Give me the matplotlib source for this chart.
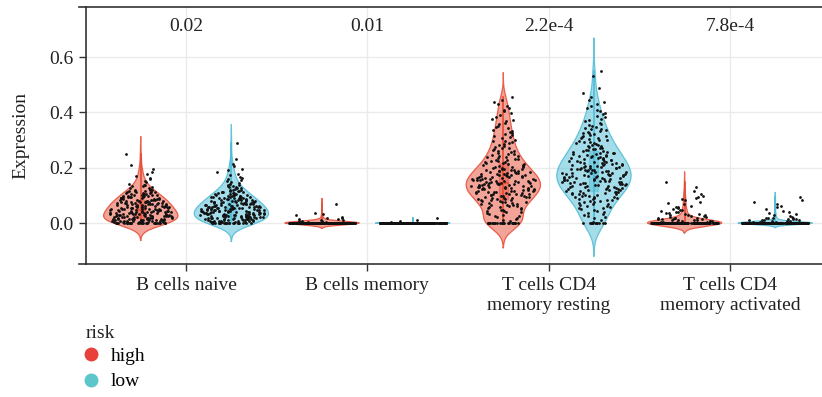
import numpy as np
import matplotlib.pyplot as plt
from matplotlib.lines import Line2D

plt.rcParams['font.family'] = ['Liberation Serif', 'DejaVu Serif']

cell_types = ['B cells naive', 'B cells memory',
              'T cells CD4\nmemory resting', 'T cells CD4\nmemory activated']
p_values = ['0.02', '0.01', '2.2e-4', '7.8e-4']
risk_groups = ['high', 'low']
risk_colors = {'high': '#E64B35', 'low': '#4DBBD5'}
legend_colors = {'high': '#E8413C', 'low': '#5CC6CB'}

# expression histograms: samples at exactly zero, then counts per 0.02 bin
bin_width = 0.02
high_zero_counts = [22, 190, 22, 180]
low_zero_counts = [18, 215, 12, 200]
high_bin_counts = [
    [42, 40, 36, 32, 26, 18, 9, 4, 3, 2, 1, 0, 1],
    [12, 4, 0, 1],
    [5, 7, 10, 13, 16, 20, 22, 22, 19, 16, 12, 10, 8, 7, 6, 5, 5, 4, 4, 3, 3, 3, 2],
    [22, 12, 8, 4, 5, 2, 1, 1],
]
low_bin_counts = [
    [38, 42, 40, 32, 26, 18, 10, 6, 4, 3, 2, 1, 0, 0, 1],
    [4],
    [3, 5, 7, 9, 12, 15, 17, 19, 20, 19, 17, 15, 13, 11, 9, 8, 7, 6, 4, 4, 3, 3,
     2, 1, 1, 0, 1, 1],
    [20, 6, 3, 3, 2],
]

# kernel bandwidth multipliers and minimum jitter share per violin
high_bw_adjust = [1.5, 3.0, 1.0, 1.6]
low_bw_adjust = [1.5, 1.4, 1.25, 1.3]
high_jitter_floor = [0.45, 0.8, 0.35, 0.8]
low_jitter_floor = [0.45, 0.8, 0.35, 0.8]


def expand_histogram(zero_count, bin_counts):
    values = [np.zeros(zero_count)]
    for i, count in enumerate(bin_counts):
        if count:
            values.append(i * bin_width + (np.arange(count) + 0.5) / count * bin_width)
    return np.concatenate(values)


def bw_nrd0(values):
    sd = values.std(ddof=1)
    iqr = np.subtract(*np.percentile(values, [75, 25]))
    lo = min(sd, iqr / 1.34) if iqr > 0 else sd
    return 0.9 * lo * len(values) ** -0.2


def violin_profile(values, adjust):
    bw = bw_nrd0(values) * adjust
    grid = np.linspace(values.min() - 3 * bw, values.max() + 3 * bw, 512)
    dens = np.exp(-0.5 * ((grid[:, None] - values[None, :]) / bw) ** 2).sum(axis=1)
    return grid, dens / dens.max()


def draw_violin(ax, x, grid, rel, color, half_width):
    widths = half_width * rel
    ax.fill_betweenx(grid, x - widths, x + widths, facecolor=color, alpha=0.5,
                     edgecolor='none', zorder=2)
    ax.plot(np.r_[x - widths, (x + widths)[::-1], x - widths[0]],
            np.r_[grid, grid[::-1], grid[0]], color=color, lw=0.9, alpha=0.85, zorder=2)


def draw_box(ax, x, values, color, half_width=0.025):
    q1, med, q3 = np.percentile(values, [25, 50, 75])
    ax.plot([x, x], [values.min(), values.max()], color=color, lw=1.2, zorder=3)
    ax.add_patch(plt.Rectangle((x - half_width, q1), 2 * half_width, q3 - q1,
                               facecolor=color, alpha=0.45, edgecolor=color,
                               lw=1.0, zorder=3))
    ax.plot([x - half_width, x + half_width], [med, med], color=color, lw=1.2, zorder=3)


jitter = np.random.default_rng(7)


def draw_points(ax, x, values, grid, rel, half_width, floor):
    # horizontal jitter follows the violin outline
    local = np.maximum(np.interp(values, grid, rel), floor)
    offsets = jitter.uniform(-1, 1, len(values)) * 0.9 * half_width * local
    ax.scatter(x + offsets, values, s=4, color='#111111', linewidths=0, zorder=4)


fig = plt.figure(figsize=(8.22, 3.97), dpi=100)
ax = fig.add_axes([86 / 822, 1 - 264 / 397, 1 - 86 / 822, (264 - 7) / 397])

half_width = 0.205
dodge = {'high': -0.25, 'low': 0.25}
for i, cell in enumerate(cell_types):
    for risk in risk_groups:
        if risk == 'high':
            values = expand_histogram(high_zero_counts[i], high_bin_counts[i])
            adjust, floor = high_bw_adjust[i], high_jitter_floor[i]
        else:
            values = expand_histogram(low_zero_counts[i], low_bin_counts[i])
            adjust, floor = low_bw_adjust[i], low_jitter_floor[i]
        x = i + dodge[risk]
        grid, rel = violin_profile(values, adjust)
        draw_violin(ax, x, grid, rel, risk_colors[risk], half_width)
        draw_box(ax, x, values, risk_colors[risk])
        draw_points(ax, x, values, grid, rel, half_width, floor)
    ax.text(i, 0.712, p_values[i], ha='center', va='center', fontsize=14, color='#222222')

ax.set_xlim(-0.552, 3.508)
ax.set_ylim(-0.148, 0.781)
ax.set_xticks(range(len(cell_types)))
ax.set_xticklabels(cell_types, fontsize=14, color='#222222', linespacing=1.25)
ax.set_yticks([0.0, 0.2, 0.4, 0.6])
ax.set_yticklabels(['0.0', '0.2', '0.4', '0.6'], fontsize=14, color='#222222')
ax.set_ylabel('Expression', fontsize=14, color='#222222', labelpad=14)
ax.tick_params(direction='out', length=5, width=1, color='#333333', pad=4)
ax.grid(color='#EBEBEB', lw=1)
ax.set_axisbelow(True)
for side in ['left', 'top', 'bottom']:
    ax.spines[side].set_color('#333333')
    ax.spines[side].set_linewidth(1.2)
ax.spines['right'].set_visible(False)
for y in [0, 1]:
    ax.plot([-7 / 736, 0], [y, y], transform=ax.transAxes, color='#333333',
            lw=1.2, clip_on=False)

fig.text(86 / 822, 1 - 333 / 397, 'risk', ha='left', va='center', fontsize=14,
         color='#222222')
handles = [Line2D([], [], marker='o', ls='', markersize=9, color=legend_colors[r])
           for r in risk_groups]
fig.legend(handles, risk_groups, loc='upper left',
           bbox_to_anchor=(81 / 822, 1 - 347 / 397), frameon=False,
           fontsize=14, handletextpad=0.55, labelspacing=0.42, handlelength=1.0,
           borderaxespad=0, borderpad=0)

fig.savefig('out.png', dpi=100)
